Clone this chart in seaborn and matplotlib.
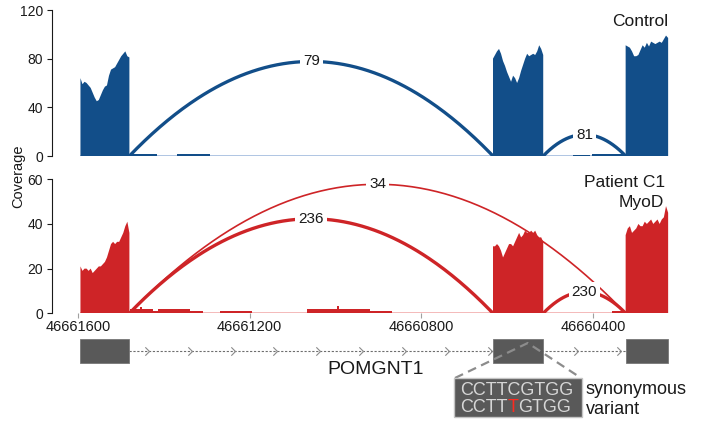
import numpy as np
import matplotlib
matplotlib.use("Agg")
import matplotlib.pyplot as plt
from matplotlib.patches import Rectangle
from matplotlib.path import Path
import seaborn as sns

# --- POMGNT1 locus (genomic coordinates; the gene reads right-to-left) ---
exon_starts = [46661594, 46660633, 46660324]
exon_ends = [46661480, 46660516, 46660225]
axis_ticks = [46661600, 46661200, 46660800, 46660400]
variant_pos = 46660552
gene_name = "POMGNT1"
ref_seq = "CCTTCGTGG"
alt_seq = ["CCTT", "T", "GTGG"]

# read depth sampled evenly across each exon
control_exon1 = [64, 59, 61, 60, 58, 56, 52, 48, 45, 46, 50, 54, 57, 58, 66, 71, 72, 73, 76, 79, 82, 84, 86, 82, 81]
control_exon2 = [80, 83, 86, 88, 84, 78, 74, 69, 65, 61, 66, 64, 60, 64, 70, 75, 80, 84, 82, 83, 84, 83, 86, 91, 88, 83]
control_exon3 = [91, 90, 89, 86, 82, 82, 83, 87, 91, 89, 93, 90, 94, 93, 92, 93, 94, 93, 96, 99, 97]
patient_exon1 = [21, 19, 20, 20, 19, 20, 18, 19, 20, 21, 21, 22, 23, 25, 28, 31, 32, 31, 32, 32, 34, 36, 39, 41, 36]
patient_exon2 = [30, 30, 31, 30, 28, 25, 27, 29, 31, 31, 30, 32, 34, 36, 34, 35, 37, 36, 36, 37, 36, 37, 35, 34, 34, 32]
patient_exon3 = [35, 38, 39, 36, 37, 38, 40, 39, 39, 41, 40, 41, 42, 40, 41, 42, 40, 42, 43, 48, 45]

# low intronic read depth
control_intron_start = [46661479, 46661369, 46660447, 46660403]
control_intron_end = [46661416, 46661292, 46660407, 46660326]
control_intron_depth = [1.8, 1.6, 1.0, 1.6]
patient_intron_start = [46661479, 46661456, 46661450, 46661425, 46661414, 46661339,
                        46661269, 46661067, 46660997, 46660992, 46660920, 46660356]
patient_intron_end = [46661456, 46661450, 46661425, 46661414, 46661339, 46661309,
                      46661195, 46660997, 46660992, 46660920, 46660869, 46660324]
patient_intron_depth = [2.1, 2.8, 1.8, 0.9, 1.8, 1.0, 1.0, 2.1, 3.1, 2.1, 1.0, 1.0]

# split reads: donor, acceptor, read count
control_junction_from = [46661480, 46660516]
control_junction_to = [46660633, 46660324]
control_junction_reads = [79, 81]
patient_junction_from = [46661480, 46661480, 46660516]
patient_junction_to = [46660633, 46660324, 46660324]
patient_junction_reads = [236, 34, 230]

BLUE, BLUE_LIGHT = "#124E89", "#A9C0E0"
RED, RED_LIGHT = "#CE2427", "#F3B4B4"
EXON_GREY = "#595959"
INK = "#1a1a1a"

sns.set_style("ticks")
plt.rcParams["font.family"] = ["Liberation Sans", "DejaVu Sans"]

W, H = 705, 423
fig = plt.figure(figsize=(W / 100, H / 100), dpi=100)


def px_box(left, top, right, bottom):
    return [left / W, 1 - bottom / H, (right - left) / W, (bottom - top) / H]


X_LEFT, X_RIGHT = 46661661, 46660223
ax_top = fig.add_axes(px_box(51.7, 10, 669, 156))
ax_bot = fig.add_axes(px_box(51.7, 179.3, 669, 313.3))
ax_gene = fig.add_axes(px_box(51.7, 330, 669, 423))
ax_note = fig.add_axes([0, 0, 1, 1])
ax_note.set_xlim(0, W)
ax_note.set_ylim(H, 0)
ax_note.axis("off")


def draw_track(ax, exon_cov, gap_start, gap_end, gap_depth,
               j_from, j_to, j_reads, dark, light, ymax, yticks):
    ax.set_xlim(X_LEFT, X_RIGHT)
    ax.set_ylim(0, ymax)
    ax.plot([exon_starts[0], exon_ends[-1]], [0, 0], color=light, lw=1.3,
            zorder=1, solid_capstyle="butt")
    for s, e, vals in zip(exon_starts, exon_ends, exon_cov):
        pos = np.linspace(s, e, len(vals))
        xs = np.concatenate([[s], pos, [e]])
        ys = np.concatenate([[0], vals, [0]])
        ax.fill(xs, ys, color=dark, lw=0, zorder=2)
    for s, e, d in zip(gap_start, gap_end, gap_depth):
        ax.fill([s, s, e, e], [0, d, d, 0], color=dark, lw=0, zorder=2)

    # junction arcs: height follows the on-screen span
    bb = ax.get_window_extent()
    ppb = bb.width / abs(X_LEFT - X_RIGHT)
    ppu = bb.height / ymax
    top_reads = max(j_reads)
    for a, b, n in zip(j_from, j_to, j_reads):
        mid, half = (a + b) / 2, abs(a - b) / 2
        peak = 0.26 * abs(a - b) * ppb / ppu
        xs = np.linspace(a, b, 240)
        ys = peak * (1 - ((xs - mid) / half) ** 2)
        sns.lineplot(x=xs, y=ys, ax=ax, color=dark, lw=1.0 + 1.4 * n / top_reads,
                     sort=False, estimator=None, legend=False, zorder=3)
        ax.text(mid, peak, str(n), ha="center", va="center", fontsize=11,
                color=INK, zorder=4,
                bbox=dict(boxstyle="square,pad=0.2", fc="white", ec="none"))

    ax.set_xlabel("")
    ax.set_ylabel("")
    ax.set_yticks(yticks)
    ax.tick_params(axis="y", left=True, length=3.6, width=0.8, pad=2.5,
                   labelsize=10, color=INK, labelcolor=INK)
    ax.spines["left"].set_linewidth(0.8)
    ax.spines["left"].set_color(INK)
    sns.despine(ax=ax, bottom=True)


draw_track(ax_top, [control_exon1, control_exon2, control_exon3],
           control_intron_start, control_intron_end, control_intron_depth,
           control_junction_from, control_junction_to, control_junction_reads,
           BLUE, BLUE_LIGHT, 120, [0, 40, 80, 120])
draw_track(ax_bot, [patient_exon1, patient_exon2, patient_exon3],
           patient_intron_start, patient_intron_end, patient_intron_depth,
           patient_junction_from, patient_junction_to, patient_junction_reads,
           RED, RED_LIGHT, 60, [0, 20, 40, 60])

ax_top.set_xticks([])
ax_bot.set_xticks(axis_ticks)
ax_bot.set_xticklabels([str(t) for t in axis_ticks])
ax_bot.tick_params(axis="x", bottom=True, length=3.6, width=0.8, pad=1.5,
                   labelsize=10.5, color="#a0a0a0", labelcolor=INK)

# gene model
ax_gene.set_xlim(X_LEFT, X_RIGHT)
ax_gene.set_ylim(H, 330)
ax_gene.axis("off")
ax_gene.plot([exon_ends[0], exon_starts[-1]], [351, 351], color="#6e6e6e",
             lw=0.8, dashes=(2, 1.5), zorder=1)
chevron = Path([(-1, 1), (0, 0), (-1, -1)], [Path.MOVETO, Path.LINETO, Path.LINETO])
chev_x = np.arange(46661435, exon_starts[-1], -100)
ax_gene.plot(chev_x, np.full(len(chev_x), 351), ls="none", marker=chevron,
             ms=6, mfc="none", mec="#8a8a8a", mew=0.8, zorder=2)
for s, e in zip(exon_starts, exon_ends):
    ax_gene.add_patch(Rectangle((e, 339), s - e, 24, fc=EXON_GREY,
                                ec="#777777", lw=0.6, zorder=3))

# labels
fig.text(18 / W, 1 - 176 / H, "Coverage", rotation=90, ha="center",
         va="center", fontsize=10.5, color=INK)
ax_note.text(668, 26, "Control", ha="right", va="baseline", fontsize=12.5, color=INK)
ax_note.text(665, 186.7, "Patient C1", ha="right", va="baseline", fontsize=12.5, color=INK)
ax_note.text(664, 206.7, "MyoD", ha="right", va="baseline", fontsize=12.5, color=INK)
ax_note.text(375.5, 374, gene_name, ha="center", va="baseline", fontsize=14, color=INK)

# zoom onto the variant in the middle exon
apex = ax_note.transData.inverted().transform(
    ax_gene.transData.transform((variant_pos, 343)))
ax_note.plot([455, apex[0], 581], [378, apex[1], 378], color="#8c8c8c",
             lw=1.6, dashes=(4, 2.5), zorder=5)
ax_note.add_patch(Rectangle((454, 378), 128, 39, fc=EXON_GREY, ec="#c4c4c4",
                            lw=1.0, zorder=6))
seq_kw = dict(fontsize=13, va="baseline", zorder=7)
ax_note.text(460, 395, ref_seq, ha="left", color="#d6d6d6", **seq_kw)
t1 = ax_note.text(460, 411.7, alt_seq[0], ha="left", color="#d6d6d6", **seq_kw)
t2 = ax_note.annotate(alt_seq[1], xy=(1, 0), xycoords=t1, ha="left", va="bottom",
                      fontsize=13, color="#ff2a1f", zorder=7)
ax_note.annotate(alt_seq[2], xy=(1, 0), xycoords=t2, ha="left", va="bottom",
                 fontsize=13, color="#d6d6d6", zorder=7)
ax_note.text(586, 394, "synonymous", ha="left", va="baseline", fontsize=13, color=INK)
ax_note.text(586, 414, "variant", ha="left", va="baseline", fontsize=13, color=INK)

fig.savefig("out.png", dpi=100)
